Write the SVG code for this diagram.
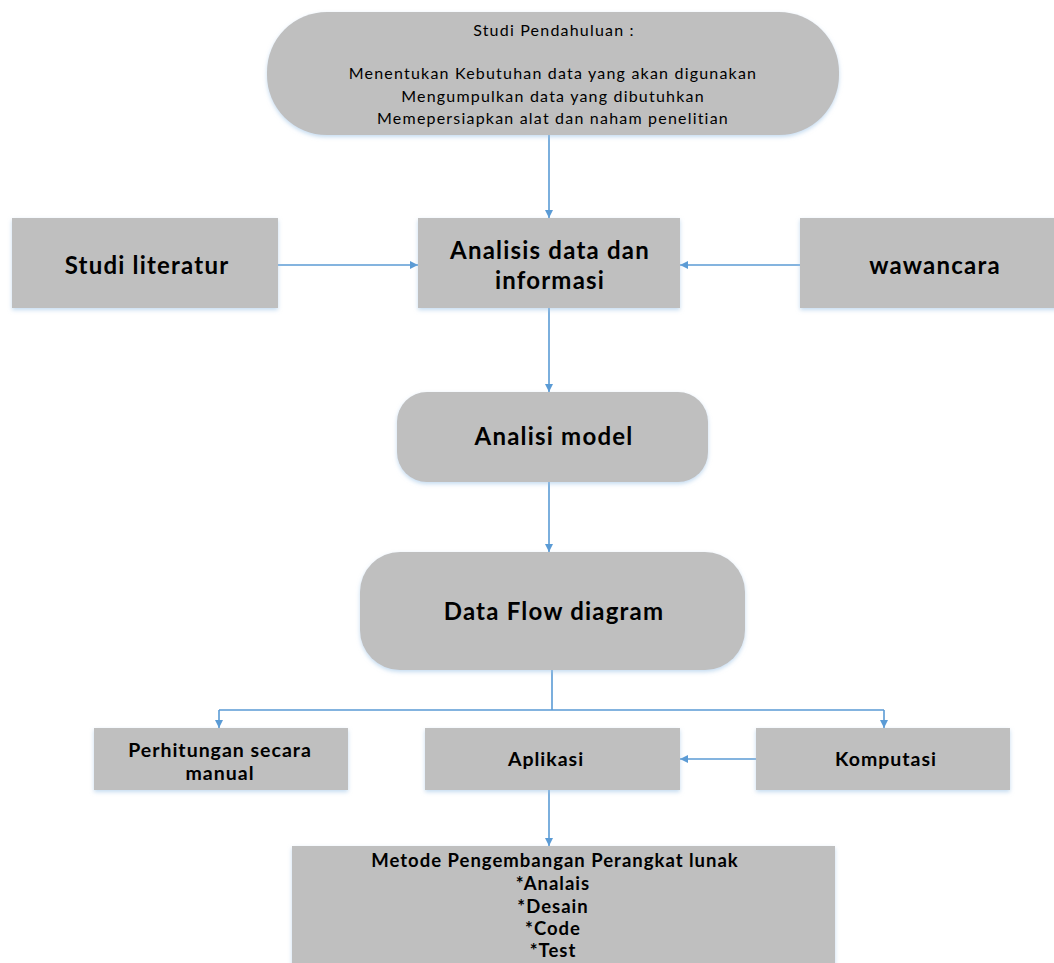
<svg xmlns="http://www.w3.org/2000/svg" width="1054" height="963" viewBox="0 0 1054 963">
<style>
.n{fill:#bfbfbf;filter:url(#sh)}
.t{font-family:Lato,"Open Sans","Liberation Sans",sans-serif;fill:#000;text-anchor:middle}
.r{font-size:16px;letter-spacing:1.2px}
.b{font-weight:bold}
.L{font-size:24px;letter-spacing:1.2px}
.s{font-size:19.5px;letter-spacing:1px}
.m{font-size:18.5px;letter-spacing:1px}
.c{stroke:#5b9bd5;stroke-width:1.6;fill:none;marker-end:url(#ah)}
.l{stroke:#5b9bd5;stroke-width:1.6;fill:none}
</style>
<defs>
<marker id="ah" viewBox="0 0 10 10" refX="10" refY="5" markerWidth="8" markerHeight="8" markerUnits="userSpaceOnUse" orient="auto">
<path d="M0,0 L10,5 L0,10 z" fill="#5b9bd5"/>
</marker>
<filter id="sh" x="-5%" y="-5%" width="110%" height="115%">
<feGaussianBlur in="SourceAlpha" stdDeviation="2"/>
<feOffset dx="0" dy="2" result="b"/>
<feFlood flood-color="#9dc3e6" flood-opacity="0.6"/>
<feComposite in2="b" operator="in"/>
<feMerge><feMergeNode/><feMergeNode in="SourceGraphic"/></feMerge>
</filter>
</defs>
<rect width="1054" height="963" fill="#fff"/>
<g id="connectors">
<path class="c" d="M549,135 V218"/>
<path class="c" d="M278,265 H418"/>
<path class="c" d="M800,265 H680"/>
<path class="c" d="M549,308 V392"/>
<path class="c" d="M549,482 V552"/>
<path class="l" d="M552,670 V710 M219,710 H884"/>
<path class="c" d="M219,710 V728"/>
<path class="c" d="M884,710 V728"/>
<path class="c" d="M756,759 H680"/>
<path class="c" d="M549,790 V846"/>
</g>
<g id="studi-pendahuluan">
<rect class="n" x="267" y="12" width="572" height="123" rx="60"/>
<text class="t r" x="554" y="36">Studi Pendahuluan :</text>
<text class="t r" x="553" y="79">Menentukan Kebutuhan data yang akan digunakan</text>
<text class="t r" x="553" y="102">Mengumpulkan data yang dibutuhkan</text>
<text class="t r" x="553" y="124">Memepersiapkan alat dan naham penelitian</text>
</g>
<g id="studi-literatur">
<rect class="n" x="12" y="218" width="266" height="90"/>
<text class="t b L" x="147" y="274">Studi literatur</text>
</g>
<g id="analisis">
<rect class="n" x="418" y="218" width="262" height="90"/>
<text class="t b L" x="550" y="259">Analisis data dan</text>
<text class="t b L" x="550" y="289">informasi</text>
</g>
<g id="wawancara">
<rect class="n" x="800" y="218" width="258" height="90"/>
<text class="t b L" x="935" y="274">wawancara</text>
</g>
<g id="analisi-model">
<rect class="n" x="397" y="392" width="311" height="90" rx="30"/>
<text class="t b L" x="554" y="445">Analisi model</text>
</g>
<g id="dfd">
<rect class="n" x="360" y="552" width="385" height="118" rx="40"/>
<text class="t b L" x="554" y="620">Data Flow diagram</text>
</g>
<g id="perhitungan">
<rect class="n" x="94" y="728" width="254" height="62"/>
<text class="t b s" x="220" y="757">Perhitungan secara</text>
<text class="t b s" x="220" y="780">manual</text>
</g>
<g id="aplikasi">
<rect class="n" x="425" y="728" width="255" height="62"/>
<text class="t b s" x="546" y="766">Aplikasi</text>
</g>
<g id="komputasi">
<rect class="n" x="756" y="728" width="254" height="62"/>
<text class="t b s" x="886" y="766">Komputasi</text>
</g>
<g id="metode">
<rect class="n" x="292" y="846" width="543" height="125"/>
<text class="t b m" x="555" y="867">Metode Pengembangan Perangkat lunak</text>
<text class="t b m" x="553" y="890">*Analais</text>
<text class="t b m" x="553" y="913">*Desain</text>
<text class="t b m" x="553" y="935">*Code</text>
<text class="t b m" x="553" y="957">*Test</text>
</g>
</svg>
